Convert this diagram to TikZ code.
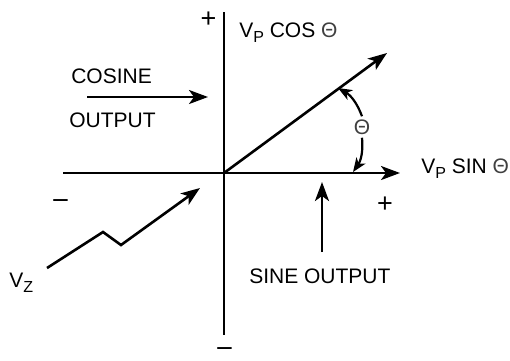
\documentclass[tikz,border=0pt]{standalone}
\usepackage{fontspec}
\setmainfont{Liberation Sans}
\usetikzlibrary{arrows.meta, positioning, calc}

\newcommand{\lowsub}[1]{\raisebox{-5pt}{\fontsize{16}{16}\selectfont #1}}
\newcommand{\thet}{\textcolor{black!75}{Θ}}

\begin{document}
\begin{tikzpicture}[x=1pt, y=1pt, >={Stealth[length=19pt,width=14pt,inset=5pt]},
  line width=2.6pt, font=\fontsize{21}{25}\selectfont,
  lbl/.style={inner sep=0pt, anchor=base west},
  sign/.style={inner sep=0pt, font=\fontsize{27}{30}\selectfont},
  smalltip/.style={-{Stealth[length=14pt,width=11pt,inset=4pt]}, line width=2.2pt}]
  \useasboundingbox (0,0) rectangle (510,-360);
  % axes
  \coordinate (O) at (224,-173);
  \coordinate (ytop) at (224,-12);
  \coordinate (ybot) at (224,-335);
  \coordinate (xleft) at (63,-173);
  \coordinate (xright) at (400,-173);
  \draw (ytop) -- (ybot);
  \draw[->] (xleft) -- (xright);
  % signs on the axes
  \node[sign] (plustop) at (208.5,-20) {+};
  \node[sign] (minusbot) at (224.5,-353) {\scalebox{1.1}[1]{−}};
  \node[sign] (minusleft) at (60.5,-205) {\scalebox{1.1}[1]{−}};
  \node[sign] (plusright) at (385,-205) {+};
  % rotating vector
  \coordinate (vtip) at (387,-53);
  \draw[->] (O) -- (vtip);
  \node[lbl] (vpcos) at (238,-37) {V\lowsub{P} COS \thet};
  \node[lbl] (vpsin) at (420,-173) {V\lowsub{P} SIN \thet};
  % angle
  \node[inner sep=2pt] (theta) at (362,-127) {\thet};
  \coordinate (arcup) at (338,-88);
  \coordinate (arclow) at (353,-172);
  \draw[smalltip] (theta.north) to[bend right=20] (arcup);
  \draw[smalltip] (theta.south) to[bend left=20] (arclow);
  % cosine output
  \node[lbl] (cosine) at (70,-83) {COSINE};
  \node[lbl] (output) at (68,-127) {OUTPUT};
  \coordinate (cosfrom) at (87,-97);
  \coordinate (costo) at (208,-97);
  \draw[->] (cosfrom) -- (costo);
  % sine output
  \node[lbl] (sineout) at (248,-283) {SINE OUTPUT};
  \coordinate (sinefrom) at (322,-252);
  \coordinate (sineto) at (322,-182);
  \draw[->] (sinefrom) -- (sineto);
  % input
  \node[lbl] (vz) at (8,-287) {V\lowsub{Z}};
  \coordinate (zfrom) at (47,-268);
  \coordinate (zk1) at (103,-232);
  \coordinate (zk2) at (121,-245);
  \coordinate (zto) at (200,-188);
  \draw[->, line join=miter] (zfrom) -- (zk1) -- (zk2) -- (zto);
\end{tikzpicture}
\end{document}
